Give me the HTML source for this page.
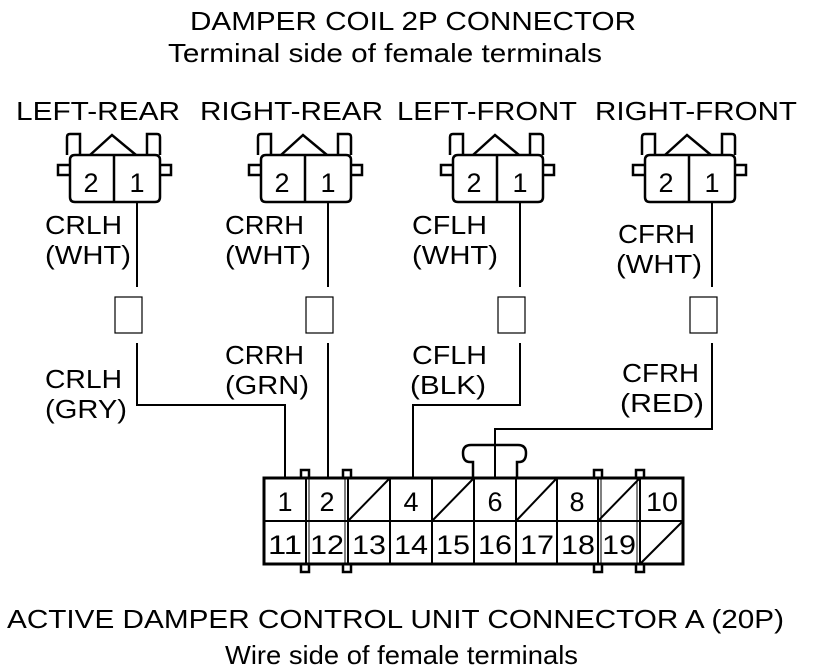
<!DOCTYPE html>
<html><head><style>
html,body{margin:0;padding:0;background:#fff;}
svg{display:block;}
text{font-family:"Liberation Sans",Arial,sans-serif;fill:#000;}
</style></head><body>
<svg width="816" height="672" viewBox="0 0 816 672" xmlns="http://www.w3.org/2000/svg">
<defs>
<g id="c2p" fill="none" stroke="#000" stroke-width="2.5">
  <path d="M67,155 V137 Q67,134 70,134 H80 V155"/>
  <path d="M147,155 V134 H157 Q160,134 160,137 V155"/>
  <path d="M90,155 L112,135 L136,155"/>
  <path d="M70,165 H58 V175 H70"/>
  <path d="M160,165 H171 V175 H160"/>
  <path d="M75,155 H155 Q160,155 160,160 V197 Q160,202 155,202 H75 Q70,202 70,197 V160 Q70,155 75,155 Z" fill="#fff"/>
  <line x1="114" y1="155" x2="114" y2="202"/>
</g>
</defs>

<g font-size="26" lengthAdjust="spacingAndGlyphs">
<text x="190" y="30" textLength="446" lengthAdjust="spacingAndGlyphs">DAMPER COIL 2P CONNECTOR</text>
<text x="168" y="62" textLength="434" lengthAdjust="spacingAndGlyphs">Terminal side of female terminals</text>
<text x="16" y="120" textLength="164" lengthAdjust="spacingAndGlyphs">LEFT-REAR</text>
<text x="200" y="120" textLength="183" lengthAdjust="spacingAndGlyphs">RIGHT-REAR</text>
<text x="397" y="120" textLength="180" lengthAdjust="spacingAndGlyphs">LEFT-FRONT</text>
<text x="595" y="120" textLength="202" lengthAdjust="spacingAndGlyphs">RIGHT-FRONT</text>
<text x="7" y="628" textLength="777" lengthAdjust="spacingAndGlyphs">ACTIVE DAMPER CONTROL UNIT CONNECTOR A (20P)</text>
<text x="225" y="664" textLength="353" lengthAdjust="spacingAndGlyphs">Wire side of female terminals</text>
</g>

<use href="#c2p"/>
<use href="#c2p" x="191"/>
<use href="#c2p" x="383"/>
<use href="#c2p" x="575"/>
<g font-size="27" text-anchor="middle">
<text x="91" y="192">2</text><text x="137" y="192">1</text>
<text x="282" y="192">2</text><text x="328" y="192">1</text>
<text x="474" y="192">2</text><text x="520" y="192">1</text>
<text x="666" y="192">2</text><text x="712" y="192">1</text>
</g>

<g stroke="#000" stroke-width="2" fill="none">
<line x1="137" y1="202" x2="137" y2="287"/>
<line x1="328" y1="202" x2="328" y2="287"/>
<line x1="520" y1="202" x2="520" y2="287"/>
<line x1="712" y1="202" x2="712" y2="287"/>
<rect x="115" y="297" width="27" height="36" stroke-width="1.2"/>
<rect x="306" y="297" width="27" height="36" stroke-width="1.2"/>
<rect x="498" y="297" width="27" height="36" stroke-width="1.2"/>
<rect x="690" y="297" width="27" height="36" stroke-width="1.2"/>
<polyline points="137,343 137,405 285,405 285,478"/>
<polyline points="328,343 328,478"/>
<polyline points="520,343 520,405 413,405 413,478"/>
<polyline points="712,343 712,429 495,429 495,478"/>
</g>

<g font-size="26">
<text x="45" y="234" textLength="77" lengthAdjust="spacingAndGlyphs">CRLH</text><text x="45" y="264" textLength="86" lengthAdjust="spacingAndGlyphs">(WHT)</text>
<text x="225" y="234" textLength="79" lengthAdjust="spacingAndGlyphs">CRRH</text><text x="225" y="264" textLength="86" lengthAdjust="spacingAndGlyphs">(WHT)</text>
<text x="412" y="234" textLength="75" lengthAdjust="spacingAndGlyphs">CFLH</text><text x="412" y="264" textLength="86" lengthAdjust="spacingAndGlyphs">(WHT)</text>
<text x="618" y="243" textLength="77" lengthAdjust="spacingAndGlyphs">CFRH</text><text x="616" y="273" textLength="86" lengthAdjust="spacingAndGlyphs">(WHT)</text>
<text x="45" y="388" textLength="77" lengthAdjust="spacingAndGlyphs">CRLH</text><text x="45" y="418" textLength="82" lengthAdjust="spacingAndGlyphs">(GRY)</text>
<text x="225" y="364" textLength="79" lengthAdjust="spacingAndGlyphs">CRRH</text><text x="225" y="394" textLength="84" lengthAdjust="spacingAndGlyphs">(GRN)</text>
<text x="412" y="364" textLength="75" lengthAdjust="spacingAndGlyphs">CFLH</text><text x="410" y="394" textLength="76" lengthAdjust="spacingAndGlyphs">(BLK)</text>
<text x="622" y="382" textLength="77" lengthAdjust="spacingAndGlyphs">CFRH</text><text x="620" y="412" textLength="84" lengthAdjust="spacingAndGlyphs">(RED)</text>
</g>

<g stroke="#000" fill="none">
<path d="M473,478 V462 H470 Q463,462 463,453 Q463,445 471,445 H518 Q526,445 526,453 Q526,462 519,462 H517 V478" stroke-width="2.5" fill="#fff"/>
<rect x="301" y="470" width="8" height="9" stroke-width="2.5" fill="#fff"/>
<rect x="343" y="470" width="8" height="9" stroke-width="2.5" fill="#fff"/>
<rect x="594" y="470" width="8" height="9" stroke-width="2.5" fill="#fff"/>
<rect x="636" y="470" width="8" height="9" stroke-width="2.5" fill="#fff"/>
<rect x="301" y="563" width="8" height="9" stroke-width="2.5" fill="#fff"/>
<rect x="343" y="563" width="8" height="9" stroke-width="2.5" fill="#fff"/>
<rect x="594" y="563" width="8" height="9" stroke-width="2.5" fill="#fff"/>
<rect x="636" y="563" width="8" height="9" stroke-width="2.5" fill="#fff"/>
<rect x="264" y="478" width="419" height="86" stroke-width="3" fill="#fff"/>
<line x1="264" y1="521" x2="683" y2="521" stroke-width="2"/>
<g stroke-width="2">
<line x1="306" y1="478" x2="306" y2="564"/><line x1="309" y1="478" x2="309" y2="564" stroke-width="1"/>
<line x1="348" y1="478" x2="348" y2="564"/><line x1="345" y1="478" x2="345" y2="564" stroke-width="1"/>
<line x1="390" y1="478" x2="390" y2="564"/>
<line x1="432" y1="478" x2="432" y2="564"/>
<line x1="474" y1="478" x2="474" y2="564"/>
<line x1="516" y1="478" x2="516" y2="564"/>
<line x1="557" y1="478" x2="557" y2="564"/>
<line x1="598" y1="478" x2="598" y2="564"/><line x1="601" y1="478" x2="601" y2="564" stroke-width="1"/>
<line x1="640" y1="478" x2="640" y2="564"/><line x1="637" y1="478" x2="637" y2="564" stroke-width="1"/>
<line x1="348" y1="521" x2="390" y2="478"/>
<line x1="432" y1="521" x2="474" y2="478"/>
<line x1="516" y1="521" x2="557" y2="478"/>
<line x1="598" y1="521" x2="640" y2="478"/>
<line x1="640" y1="564" x2="683" y2="521"/>
</g>
<line x1="495" y1="429" x2="495" y2="478" stroke-width="2"/>
</g>
<g font-size="27" text-anchor="middle">
<text x="285" y="511">1</text><text x="327" y="511">2</text><text x="411" y="511">4</text>
<text x="495" y="511">6</text><text x="577" y="511">8</text><text x="662" y="511" textLength="32" lengthAdjust="spacingAndGlyphs">10</text>
<text x="285" y="554" textLength="34" lengthAdjust="spacingAndGlyphs">11</text><text x="327" y="554" textLength="34" lengthAdjust="spacingAndGlyphs">12</text><text x="369" y="554" textLength="34" lengthAdjust="spacingAndGlyphs">13</text>
<text x="411" y="554" textLength="34" lengthAdjust="spacingAndGlyphs">14</text><text x="453" y="554" textLength="34" lengthAdjust="spacingAndGlyphs">15</text><text x="495" y="554" textLength="34" lengthAdjust="spacingAndGlyphs">16</text>
<text x="537" y="554" textLength="34" lengthAdjust="spacingAndGlyphs">17</text><text x="578" y="554" textLength="34" lengthAdjust="spacingAndGlyphs">18</text><text x="619" y="554" textLength="34" lengthAdjust="spacingAndGlyphs">19</text>
</g>
</svg>
</body></html>
